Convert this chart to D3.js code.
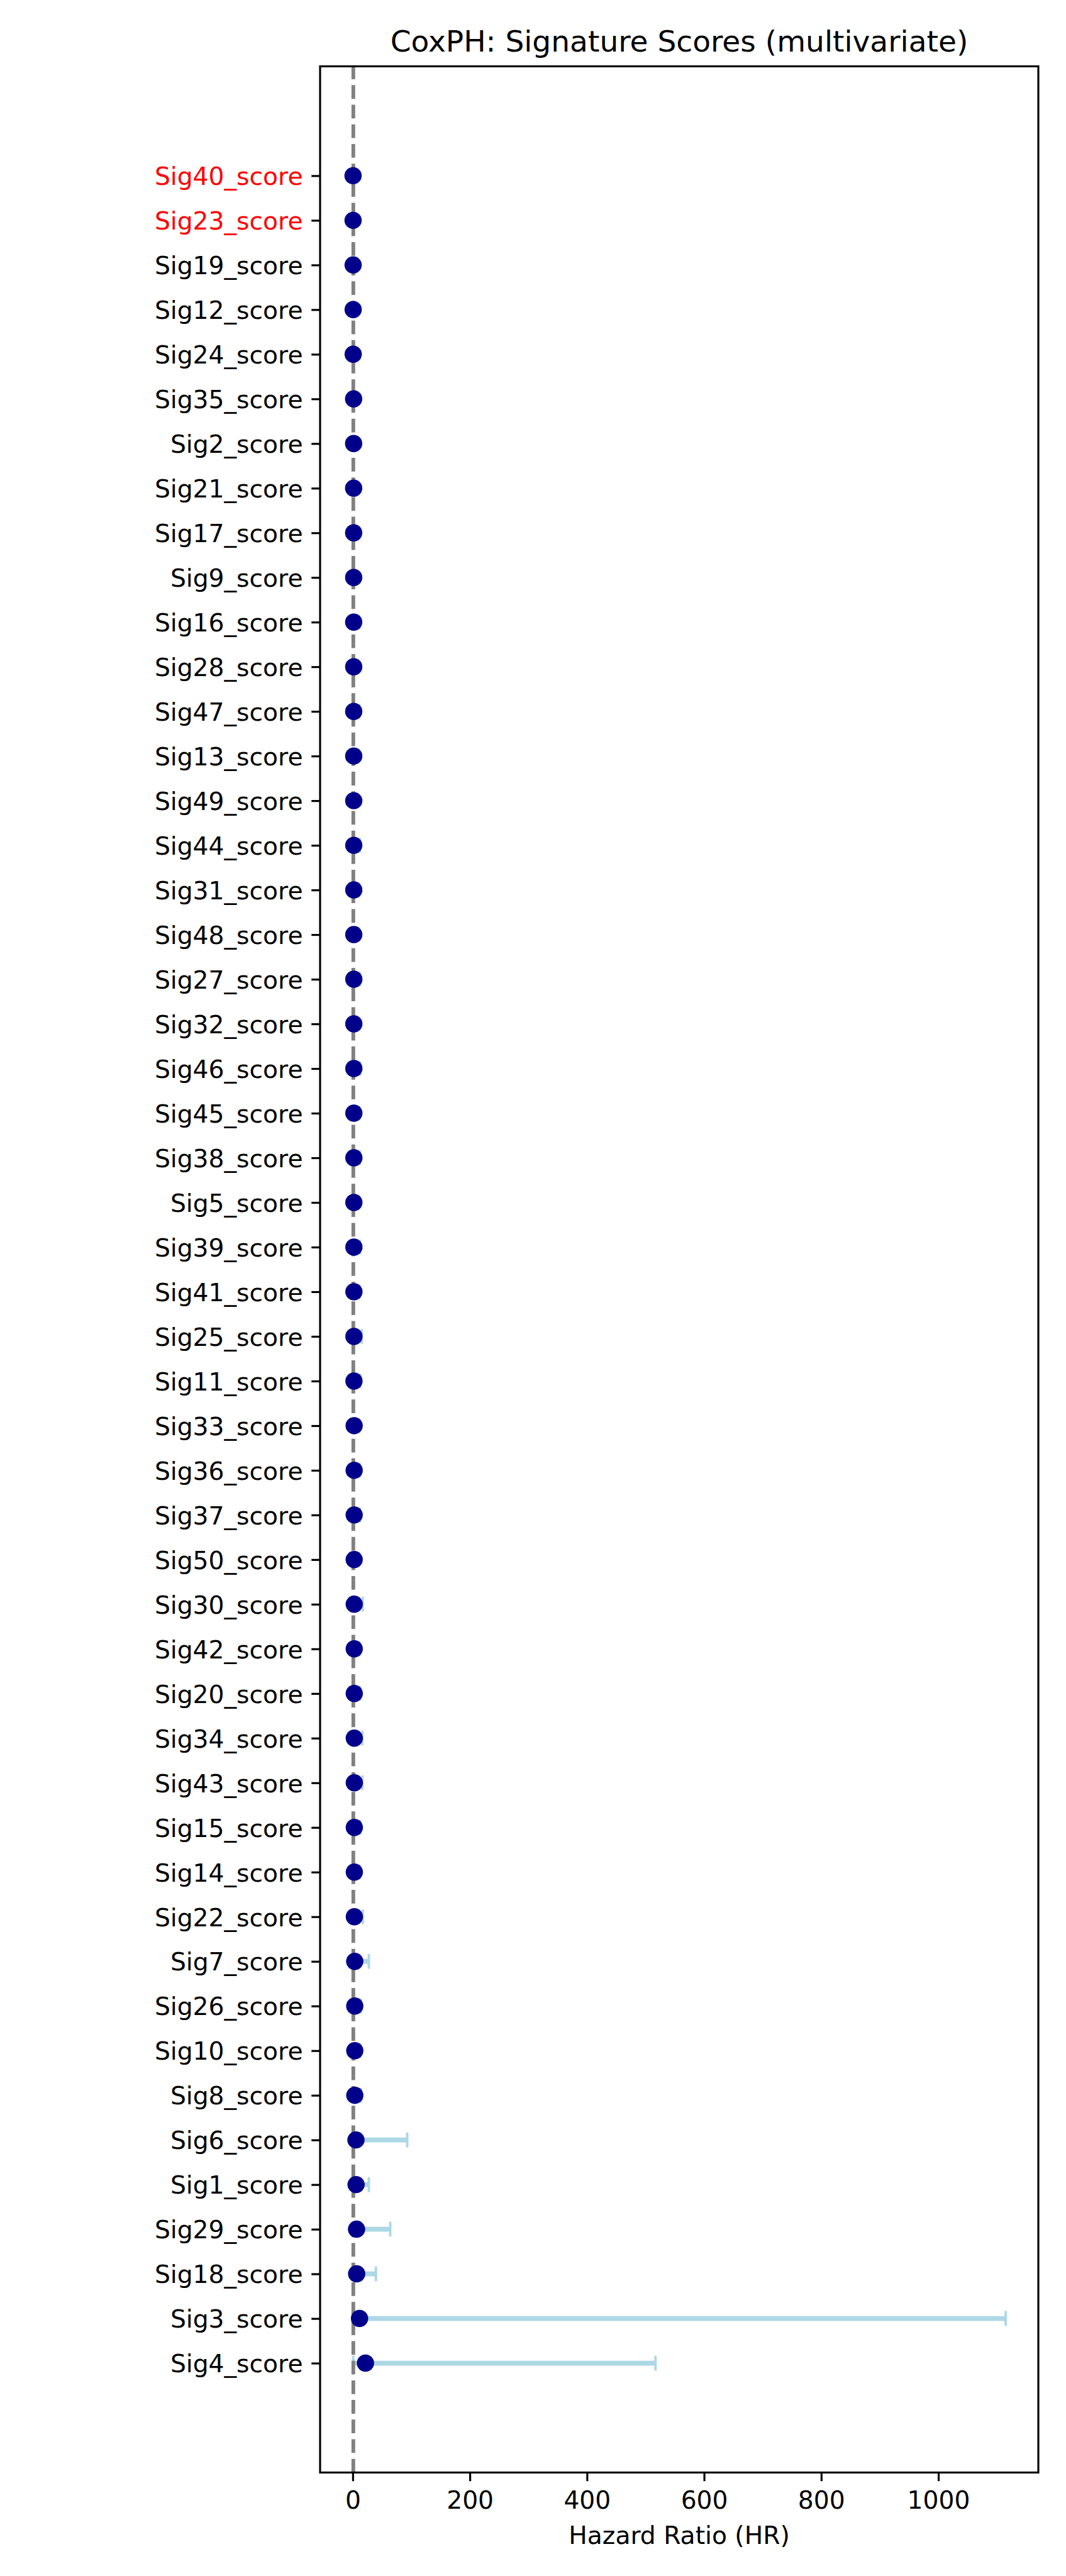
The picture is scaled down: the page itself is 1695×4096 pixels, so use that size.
<!DOCTYPE html>
<html>
<head>
<meta charset="utf-8">
<script src="https://cdn.jsdelivr.net/npm/d3@7"></script>
<style>
  html, body { margin: 0; padding: 0; background: #ffffff; }
  svg { display: block; }
</style>
</head>
<body>
<div id="chart"></div>
<script>
// ---------------- DATA ----------------
const labels = ["Sig40_score","Sig23_score","Sig19_score","Sig12_score","Sig24_score","Sig35_score","Sig2_score","Sig21_score","Sig17_score","Sig9_score","Sig16_score","Sig28_score","Sig47_score","Sig13_score","Sig49_score","Sig44_score","Sig31_score","Sig48_score","Sig27_score","Sig32_score","Sig46_score","Sig45_score","Sig38_score","Sig5_score","Sig39_score","Sig41_score","Sig25_score","Sig11_score","Sig33_score","Sig36_score","Sig37_score","Sig50_score","Sig30_score","Sig42_score","Sig20_score","Sig34_score","Sig43_score","Sig15_score","Sig14_score","Sig22_score","Sig7_score","Sig26_score","Sig10_score","Sig8_score","Sig6_score","Sig1_score","Sig29_score","Sig18_score","Sig3_score","Sig4_score"];

const hazardRatio = [0.55,0.62,0.68,0.74,0.79,1.52,1.55,1.58,1.60,1.63,1.66,1.68,1.70,1.72,1.75,1.78,1.80,1.83,1.86,1.88,1.90,1.93,1.96,1.98,2.01,2.04,2.07,2.10,2.42,2.45,2.48,2.50,2.53,2.56,2.60,2.63,2.66,2.70,2.74,2.78,3.40,3.45,3.50,3.55,5.5,5.7,6.5,6.7,11.6,21.7];

const ciLower = [0.42,0.38,0.12,0.09,0.11,0.21,0.30,0.26,0.18,0.35,0.22,0.29,0.17,0.25,0.33,0.20,0.24,0.31,0.19,0.36,0.16,0.28,0.23,0.34,0.21,0.27,0.15,0.30,0.40,0.37,0.26,0.44,0.20,0.39,0.33,0.22,0.25,0.41,0.46,0.18,0.28,0.55,0.61,0.48,0.31,0.60,0.52,0.70,0.02,0.90];

const ciUpper = [0.93,0.97,3.9,5.8,5.2,6.4,8.1,7.3,9.2,6.8,10.4,8.7,11.2,9.6,7.9,12.1,10.8,9.1,11.7,8.4,12.6,10.2,11.9,9.8,12.3,11.1,15.4,12.8,10.6,11.8,12.2,9.7,17.0,11.4,12.5,16.4,16.4,12.9,11.3,17.2,27.5,13.8,12.4,14.1,93,27.5,64,39.6,1115,517];

const highlighted = ["Sig40_score","Sig23_score"];

const xTicks = [0,200,400,600,800,1000];
const referenceHR = 1;

const titleText = "CoxPH: Signature Scores (multivariate)";
const xLabelText = "Hazard Ratio (HR)";

// ---------------- LAYOUT ----------------
const S = 1695 / 1800;          // scale from reference
const W = 1695, H = 4096;
const plot = { left: 540.5 * S, right: 1753.3 * S, top: 112 * S, bottom: 4175 * S };
const PT = 300 / 72 * S;        // one typographic point in px
const fontTick = 10 * PT;
const fontTitle = 12 * PT;
const tickLen = 3.5 * PT, tickPad = 3.5 * PT;
const spineW = 0.8 * PT;

const svg = d3.select("#chart").append("svg")
  .attr("width", W).attr("height", H)
  .style("font-family", "'DejaVu Sans', sans-serif");

svg.append("rect").attr("width", W).attr("height", H).attr("fill", "#ffffff");

const n = labels.length;
const rows = d3.range(n);

const xmin = d3.min(ciLower), xmax = d3.max(ciUpper);
const xr = xmax - xmin;
const x = d3.scaleLinear()
  .domain([xmin - 0.05 * xr, xmax + 0.05 * xr])
  .range([plot.left, plot.right]);

const y = d3.scaleLinear()
  .domain([-0.05 * (n - 1), (n - 1) * 1.05])
  .range([plot.top, plot.bottom]);

// clip
svg.append("defs").append("clipPath").attr("id", "clip")
  .append("rect").attr("x", plot.left).attr("y", plot.top)
  .attr("width", plot.right - plot.left).attr("height", plot.bottom - plot.top);

const g = svg.append("g").attr("clip-path", "url(#clip)");

// error bars
const eb = g.append("g");
eb.selectAll("line.bar").data(rows).join("line")
  .attr("class", "bar")
  .attr("x1", i => x(ciLower[i])).attr("x2", i => x(ciUpper[i]))
  .attr("y1", i => y(i)).attr("y2", i => y(i))
  .attr("stroke", "#ADD8E6").attr("stroke-width", 2 * PT);
const capHalf = 3 * PT;
[ciLower, ciUpper].forEach(arr => {
  eb.append("g").selectAll("line").data(rows).join("line")
    .attr("x1", i => x(arr[i])).attr("x2", i => x(arr[i]))
    .attr("y1", i => y(i) - capHalf).attr("y2", i => y(i) + capHalf)
    .attr("stroke", "#ADD8E6").attr("stroke-width", 1 * PT);
});

// reference line
g.append("line")
  .attr("x1", x(referenceHR)).attr("x2", x(referenceHR))
  .attr("y1", plot.bottom).attr("y2", plot.top)
  .attr("stroke", "#808080").attr("stroke-width", 1.5 * PT)
  .attr("stroke-dasharray", `${5.55 * PT},${2.4 * PT}`);

// points
g.append("g").selectAll("circle").data(rows).join("circle")
  .attr("cx", i => x(hazardRatio[i])).attr("cy", i => y(i))
  .attr("r", 3.5 * PT)
  .attr("fill", "#00008B");

// spines
svg.append("rect")
  .attr("x", plot.left).attr("y", plot.top)
  .attr("width", plot.right - plot.left).attr("height", plot.bottom - plot.top)
  .attr("fill", "none").attr("stroke", "#000").attr("stroke-width", spineW);

// x axis
const xAxis = svg.append("g").attr("transform", `translate(0,${plot.bottom})`)
  .call(d3.axisBottom(x).tickValues(xTicks).tickFormat(d => String(d)).tickSize(tickLen));
xAxis.select(".domain").remove();
xAxis.selectAll(".tick line").attr("stroke", "#000").attr("stroke-width", spineW);
xAxis.selectAll(".tick text")
  .attr("y", (4236.5 - 4175) * S).attr("dy", 0)
  .attr("fill", "#000")
  .style("font-size", fontTick + "px")
  .style("font-family", "'DejaVu Sans', sans-serif");

// y axis
const yAxis = svg.append("g").attr("transform", `translate(${plot.left},0)`)
  .call(d3.axisLeft(y).tickValues(rows).tickFormat(i => labels[i]).tickSize(tickLen));
yAxis.select(".domain").remove();
yAxis.selectAll(".tick line").attr("stroke", "#000").attr("stroke-width", spineW);
yAxis.selectAll(".tick text")
  .attr("x", -(tickLen + tickPad)).attr("dy", "0.364em")
  .attr("fill", i => highlighted.includes(labels[i]) ? "#FF0000" : "#000")
  .style("font-size", fontTick + "px")
  .style("font-family", "'DejaVu Sans', sans-serif");

// title
svg.append("text")
  .attr("x", (plot.left + plot.right) / 2).attr("y", 87 * S)
  .attr("text-anchor", "middle")
  .style("font-size", fontTitle + "px")
  .attr("fill", "#000")
  .text(titleText);

// x label
svg.append("text")
  .attr("x", (plot.left + plot.right) / 2).attr("y", 4295.4 * S)
  .attr("text-anchor", "middle")
  .style("font-size", fontTick + "px")
  .attr("fill", "#000")
  .text(xLabelText);
</script>
</body>
</html>
